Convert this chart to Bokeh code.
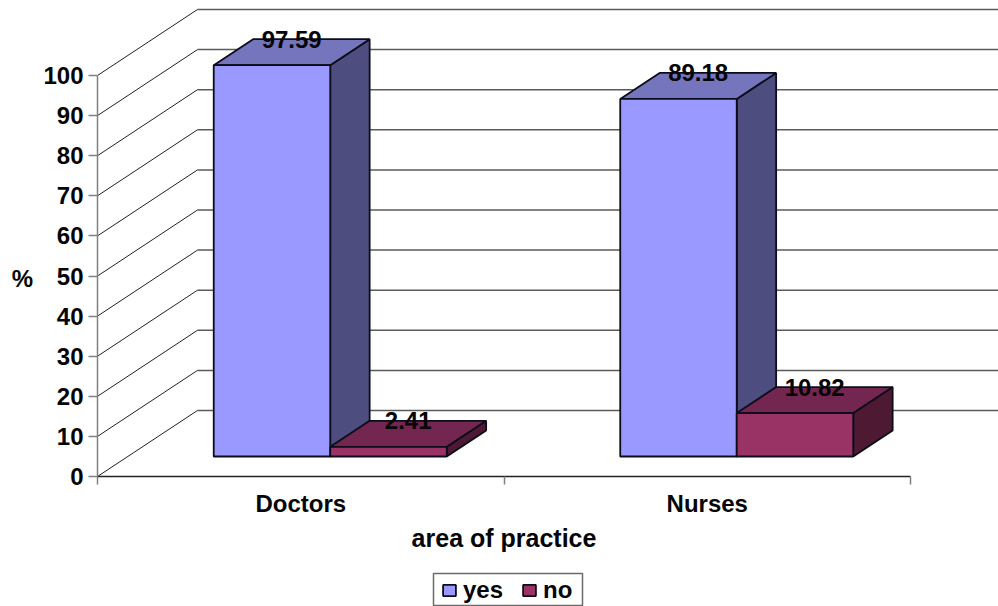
from bokeh.embed import file_html
from bokeh.resources import INLINE
from bokeh.plotting import figure
from bokeh.models import ColumnDataSource, FixedTicker, Label, Legend, LegendItem, Range1d
from bokeh.core.properties import value

categories = ["Doctors", "Nurses"]
series_names = ["yes", "no"]
yes_values = [97.59, 89.18]
no_values = [2.41, 10.82]
y_ticks = [0, 10, 20, 30, 40, 50, 60, 70, 80, 90, 100]
x_title = "area of practice"
y_title = "%"

FONT = "Liberation Sans"
TEXT_SIZE = "24px"
FRONT = ["#9999FF", "#993366"]
TOP = ["#7575BD", "#732650"]
SIDE = ["#4D4D80", "#4D1933"]

# Oblique projection: one unit of depth moves a point this far in data units
DEPTH_X = 0.246
DEPTH_Y = 16.46
BAR_WIDTH = 0.2866
BAR_Z = (0.303, 0.697)
GROUP_CENTER = 0.498
X_PER_PX = 1 / 406.5
V_PER_PX = 1 / 4.01


def project(x, v, z):
    return x + z * DEPTH_X, v + z * DEPTH_Y


def face(points):
    xs, ys = zip(*[project(*pt) for pt in points])
    return list(xs), list(ys)


# The plot frame fills the page; both axes are pinned at zero inside it
x_end = 901 * X_PER_PX
p = figure(
    width=998, height=606, output_backend="svg", toolbar_location=None,
    x_range=Range1d(-97 * X_PER_PX, x_end), y_range=Range1d(-130 * V_PER_PX, 476 * V_PER_PX),
    min_border_left=0, min_border_right=0, min_border_top=0, min_border_bottom=0,
)
p.grid.visible = False
p.outline_line_color = None
p.background_fill_color = "white"

# Back wall rules and the slanted rules on the side wall
for v in y_ticks:
    bx, by = project(0, v, 1)
    p.line([bx, x_end], [by, by], line_color="#5A5A5A", line_width=1.5)
    p.line([0, bx], [v, by], line_color="#222222", line_width=1)

legend_items = []
for c, cat in enumerate(categories):
    x_start = c + GROUP_CENTER - BAR_WIDTH
    for s, vals in enumerate((yes_values, no_values)):
        x0 = x_start + s * BAR_WIDTH
        x1 = x0 + BAR_WIDTH
        v = vals[c]
        z0, z1 = BAR_Z
        front = face([(x0, 0, z0), (x1, 0, z0), (x1, v, z0), (x0, v, z0)])
        top = face([(x0, v, z0), (x1, v, z0), (x1, v, z1), (x0, v, z1)])
        side = face([(x1, 0, z0), (x1, 0, z1), (x1, v, z1), (x1, v, z0)])
        for (xs, ys), col in ((side, SIDE[s]), (top, TOP[s])):
            p.patch(xs, ys, fill_color=col, line_color="#0C0C1A", line_width=1.8)
        r = p.patch(front[0], front[1], fill_color=FRONT[s], line_color="#0C0C1A", line_width=1.8)
        if c == 0:
            legend_items.append(LegendItem(label=series_names[s], renderers=[r]))

# Value labels sit over the back edge of each bar's top face
lx, ly, lt = [], [], []
z_mid = sum(BAR_Z) / 2
for c in range(len(categories)):
    for s, vals in enumerate((yes_values, no_values)):
        cx = c + GROUP_CENTER - BAR_WIDTH + (s + 0.5) * BAR_WIDTH
        lx.append(project(cx, vals[c], z_mid)[0])
        ly.append(project(cx, vals[c], BAR_Z[1])[1])
        lt.append(f"{vals[c]:.2f}")
p.text(
    x="x", y="y", text="t", source=ColumnDataSource(dict(x=lx, y=ly, t=lt)),
    text_font=value(FONT), text_font_style="bold", text_font_size=value(TEXT_SIZE),
    text_color="#050505", text_align="center", text_baseline="middle",
)

# Value axis
yax = p.yaxis[0]
yax.fixed_location = 0
yax.ticker = FixedTicker(ticks=y_ticks)
yax.bounds = (0, 100)
yax.major_tick_in = 0
yax.major_tick_out = 9
yax.minor_tick_line_color = None
yax.axis_line_color = "#808080"
yax.axis_line_width = 1.5
yax.major_tick_line_color = "#808080"
yax.major_tick_line_width = 1.5
yax.major_label_standoff = 5
yax.major_label_text_font = FONT
yax.major_label_text_font_style = "bold"
yax.major_label_text_font_size = TEXT_SIZE
yax.major_label_text_color = "#050505"

# Category axis: labels at group centres, tick marks between the groups
xax = p.xaxis[0]
xax.fixed_location = 0
xax.ticker = FixedTicker(ticks=[i + 0.5 for i in range(len(categories))],
                         minor_ticks=list(range(len(categories) + 1)))
xax.major_label_overrides = {i + 0.5: c for i, c in enumerate(categories)}
xax.bounds = (0, len(categories))
xax.major_tick_line_color = None
xax.minor_tick_in = 0
xax.minor_tick_out = 8
xax.minor_tick_line_color = "#808080"
xax.minor_tick_line_width = 1.5
xax.axis_line_color = "#222222"
xax.axis_line_width = 1.5
xax.major_label_standoff = 5
xax.major_label_text_font = FONT
xax.major_label_text_font_style = "bold"
xax.major_label_text_font_size = TEXT_SIZE
xax.major_label_text_color = "#050505"

# Axis titles
title_style = dict(text_font=FONT, text_font_style="bold",
                   text_color="#050505", text_align="center", text_baseline="middle")
p.add_layout(Label(x=1, y=-61 * V_PER_PX, text=x_title, text_font_size="25px", **title_style))
p.add_layout(Label(x=-75 * X_PER_PX, y=198 * V_PER_PX, text=y_title, text_font_size=TEXT_SIZE, **title_style))

# Legend frame is a separate box because the label line height would make the built-in one too tall
p.quad(left=[336 * X_PER_PX], right=[485 * X_PER_PX],
       top=[-97 * V_PER_PX], bottom=[-129 * V_PER_PX],
       fill_color="white", line_color="#6B6B6B", line_width=1.5)
legend = Legend(
    items=legend_items, orientation="horizontal", location=(441, 2),
    glyph_width=16, glyph_height=14, padding=0, spacing=18, label_standoff=6, margin=0,
    border_line_color=None, background_fill_alpha=0,
    label_text_font=FONT, label_text_font_style="bold", label_text_font_size=TEXT_SIZE,
    label_text_color="#050505", label_height=16,
)
p.add_layout(legend, "center")

open("out.html", "w").write(file_html(p, INLINE))
